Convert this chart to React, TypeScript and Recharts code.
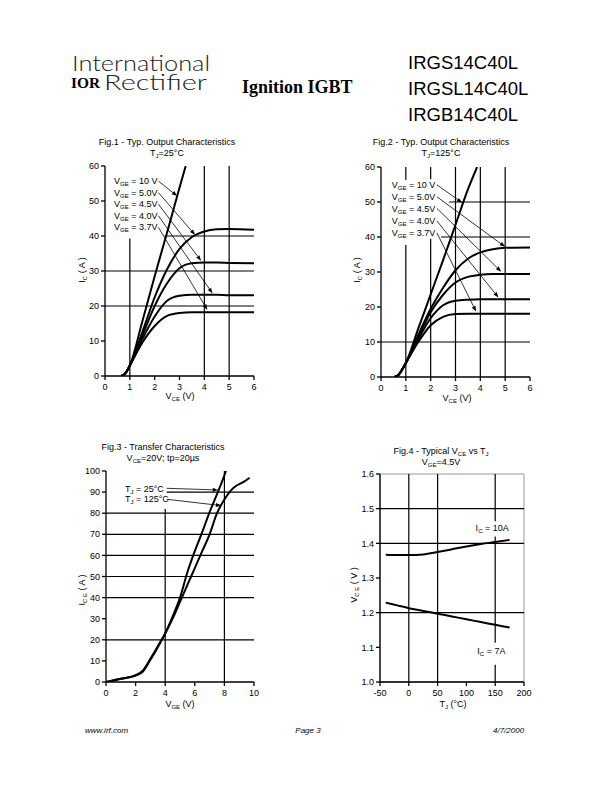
import React from "react";
import { LineChart, Line, XAxis, YAxis, ReferenceLine, ReferenceDot, ReferenceArea } from "recharts";

const FONT = "'Liberation Sans', Arial, Helvetica, sans-serif";

// ---- Fig.1  output characteristics, Tj = 25°C ----
const F1_X = [0.65, 0.8, 1, 1.5, 2, 2.5, 3, 3.5, 4, 4.5, 5, 6];
const F1_10V_X = [0.65, 0.8, 1, 1.5, 2, 2.5, 3, 3.25];
const F1_10V_Y = [0, 0.6, 3, 15.5, 28.5, 41, 53.8, 60];
const F1_50V_Y = [0, 0.6, 3, 12.5, 22.5, 30.5, 36.3, 39.7, 41.3, 41.9, 42, 41.8];
const F1_45V_Y = [0, 0.6, 3, 11.5, 20, 26.5, 30.8, 32.2, 32.4, 32.4, 32.3, 32.2];
const F1_40V_Y = [0, 0.6, 3, 10.5, 17, 21.5, 22.9, 23.2, 23.2, 23.2, 23.1, 23.1];
const F1_37V_Y = [0, 0.6, 3, 9.5, 14.3, 17.2, 18, 18.2, 18.2, 18.2, 18.2, 18.2];
const F1_LABELS = ["10 V", "5.0V", "4.5V", "4.0V", "3.7V"];
const F1_LABEL_Y = [55.7, 52.4, 49.1, 45.8, 42.5];
const F1_TIP_X = [2.91, 3.63, 3.87, 4.33, 4.12];
const F1_TIP_Y = [51.4, 40.3, 32.9, 23.6, 18.9];

// ---- Fig.2  output characteristics, Tj = 125°C ----
const F2_X = [0.55, 0.7, 1, 1.5, 2, 2.5, 3, 3.5, 4, 4.5, 5, 6];
const F2_10V_X = [0.55, 0.7, 1, 1.5, 2, 2.5, 3, 3.5, 3.87];
const F2_10V_Y = [0, 0.6, 4, 13.8, 23.6, 33.4, 43.5, 53.6, 60];
const F2_50V_Y = [0, 0.6, 4, 12, 19.5, 25.5, 30.5, 33.8, 35.6, 36.5, 36.9, 37];
const F2_45V_Y = [0, 0.6, 4, 11.5, 18.5, 23.5, 27, 28.6, 29.2, 29.4, 29.4, 29.4];
const F2_40V_Y = [0, 0.6, 4, 10.8, 16.8, 20.5, 21.8, 22.1, 22.2, 22.2, 22.2, 22.2];
const F2_37V_Y = [0, 0.6, 4, 10, 14.8, 17.2, 18, 18.1, 18.1, 18.1, 18.1, 18.1];
const F2_LABEL_Y = [54.9, 51.5, 48.2, 44.6, 41.2];
const F2_TIP_X = [3.27, 5.0, 4.84, 4.73, 3.83];
const F2_TIP_Y = [49.8, 37.2, 30.1, 22.7, 18.7];

// ---- Fig.3  transfer characteristics ----
const F3_25C_X = [0, 1, 2, 2.5, 3, 3.5, 4, 4.5, 5, 5.5, 6, 6.5, 7, 7.5, 8, 8.1];
const F3_25C_Y = [0, 1.5, 3.2, 5.5, 11, 17, 23, 31, 40, 52, 62, 71, 80.5, 89, 98, 100];
const F3_125C_X = [0, 1, 2, 2.5, 3, 3.5, 4, 4.5, 5, 5.5, 6, 6.5, 7, 7.5, 8, 8.4, 8.8, 9.3, 9.7];
const F3_125C_Y = [0, 1.5, 3, 5, 10.5, 16.5, 23, 30, 38, 46, 54, 62, 70, 80, 86.5, 90.5, 93, 94.8, 96.8];
const F3_LABELS = ["  25°C", " 125°C"];
const F3_LABEL_Y = [91.8, 86.6];
const F3_TIP_X = [7.58, 7.8];
const F3_TIP_Y = [91, 83.6];

// ---- Fig.4  Vce vs Tj ----
const F4_T = [-40, -20, 0, 25, 50, 75, 100, 125, 150, 175];
const F4_10A = [1.367, 1.366, 1.366, 1.368, 1.375, 1.383, 1.391, 1.398, 1.404, 1.41];
const F4_7A = [1.229, 1.221, 1.213, 1.205, 1.197, 1.189, 1.181, 1.173, 1.165, 1.157];

const pts = (xs: number[], ys: number[]) => xs.map((x, i) => ({ x, y: ys[i] }));

const GRID = { stroke: "#000", strokeWidth: 1.2 };
const TICK = { fontSize: 9, fill: "#000", fontFamily: FONT };
const AXIS = { stroke: "#000", strokeWidth: 1.3 };

function arrowShape(p: any) {
  const { x1, y1, x2, y2 } = p;
  const a = Math.atan2(y2 - y1, x2 - x1);
  const L = 5.5;
  const W = 2;
  const bx = x2 - L * Math.cos(a);
  const by = y2 - L * Math.sin(a);
  const nx = -Math.sin(a) * W;
  const ny = Math.cos(a) * W;
  return (
    <g>
      <line x1={x1} y1={y1} x2={bx} y2={by} stroke="#000" strokeWidth={0.8} />
      <polygon points={`${x2},${y2} ${bx + nx},${by + ny} ${bx - nx},${by - ny}`} fill="#000" />
    </g>
  );
}

function subText(base: string, sub: string, rest: string, size = 9) {
  return (p: any) => (
    <text x={p.cx} y={p.cy + 3.2} fontSize={size} fontFamily={FONT} fill="#000">
      {base}
      <tspan dy={2} fontSize={size * 0.68}>{sub}</tspan>
      <tspan dy={-2}>{rest}</tspan>
    </text>
  );
}

function gridH(y: number, x1: number, x2: number) {
  return <ReferenceLine key={`h${y}-${x1}`} segment={[{ x: x1, y }, { x: x2, y }]} {...GRID} />;
}
function gridV(x: number, y1: number, y2: number) {
  return <ReferenceLine key={`v${x}-${y1}`} segment={[{ x, y: y1 }, { x, y: y2 }]} {...GRID} />;
}
function curve(key: string, data: { x: number; y: number }[]) {
  return (
    <Line key={key} data={data} dataKey="y" type="monotone" stroke="#000" strokeWidth={2}
      dot={false} isAnimationActive={false} />
  );
}

function Panel({ left, top, w, h, xDomain, xTicks, yDomain, yTicks, yFmt, children }: any) {
  return (
    <div style={{ position: "absolute", left: left - 40, top: top - 10 }}>
      <LineChart width={w + 50} height={h + 50} margin={{ top: 10, right: 10, left: 10, bottom: 10 }}>
        <XAxis type="number" dataKey="x" domain={xDomain} ticks={xTicks} interval={0} height={30}
          allowDataOverflow tick={TICK} tickSize={4} tickMargin={4} axisLine={AXIS} tickLine={AXIS} />
        <YAxis type="number" domain={yDomain} ticks={yTicks} interval={0} width={30}
          allowDataOverflow tick={TICK} tickSize={4} tickMargin={2} axisLine={AXIS} tickLine={AXIS}
          tickFormatter={yFmt} />
        {children}
      </LineChart>
    </div>
  );
}

function callouts(prefix: string, base: string, sub: string, labels: string[], lx: number, ly: number[],
  sx: number, tx: number[], ty: number[]) {
  const out: any[] = [];
  labels.forEach((lab, i) => {
    out.push(<ReferenceDot key={`${prefix}d${i}`} x={lx} y={ly[i]} r={0} shape={subText(base, sub, lab.startsWith(" ") ? " =" + lab : " = " + lab)} />);
    out.push(<ReferenceLine key={`${prefix}a${i}`} segment={[{ x: sx, y: ly[i] }, { x: tx[i], y: ty[i] }]} shape={arrowShape} />);
  });
  return out;
}

function T({ x, y, size = 9, anchor = "start", children, ...rest }: any) {
  return (
    <text x={x} y={y} fontSize={size} fontFamily={FONT} textAnchor={anchor} fill="#000" {...rest}>
      {children}
    </text>
  );
}
const S = ({ children, size = 6 }: any) => <tspan dy={2} fontSize={size}>{children}</tspan>;
const U = ({ children }: any) => <tspan dy={-2}>{children}</tspan>;

const LOGO_FONT = "Lato, 'Open Sans', sans-serif";

export default function App() {
  const X6 = [0, 1, 2, 3, 4, 5, 6];
  const Y60 = [0, 10, 20, 30, 40, 50, 60];
  return (
    <div style={{ position: "absolute", left: 0, top: 0, width: 612, height: 792, background: "#fff" }}>
      <svg width={612} height={792} style={{ position: "absolute", left: 0, top: 0 }}>
        {/* header */}
        <text x={72} y={70.5} fontSize={21} fontFamily={LOGO_FONT} fontWeight={300} fill="#222"
          textLength={138} lengthAdjust="spacingAndGlyphs">International</text>
        <text x={71} y={88} fontSize={15.5} fontFamily="'Liberation Serif', serif" fontWeight={700} fill="#000"
          textLength={29} lengthAdjust="spacingAndGlyphs">IOR</text>
        <text x={104} y={89.5} fontSize={21} fontFamily={LOGO_FONT} fontWeight={300} fill="#222"
          textLength={103} lengthAdjust="spacingAndGlyphs">Rectifier</text>
        <text x={242} y={93} fontSize={18} fontFamily="'Liberation Serif', 'Times New Roman', serif" fontWeight={700} fill="#000">Ignition IGBT</text>
        <T x={408} y={68.5} size={18.5}>IRGS14C40L</T>
        <T x={408} y={94.5} size={18.5}>IRGSL14C40L</T>
        <T x={408} y={121} size={18.5}>IRGB14C40L</T>

        {/* fig titles */}
        <T x={167} y={145} anchor="middle">Fig.1 - Typ. Output Characteristics</T>
        <T x={167} y={155.5} anchor="middle">T<S>J</S><U>=25°C</U></T>
        <T x={441} y={145} anchor="middle">Fig.2 - Typ. Output Characteristics</T>
        <T x={441} y={155.5} anchor="middle">T<S>J</S><U>=125°C</U></T>
        <T x={163} y={450} anchor="middle">Fig.3 - Transfer Characteristics</T>
        <T x={163} y={461} anchor="middle">V<S>CE</S><U>=20V; tp=20µs</U></T>
        <T x={441} y={453.5} anchor="middle">Fig.4 - Typical V<S>CE</S><U> vs T</U><S>J</S></T>
        <T x={441} y={464.5} anchor="middle">V<S>GE</S><U>=4.5V</U></T>

        {/* axis titles */}
        <T x={180} y={399} anchor="middle">V<S>CE</S><U> (V)</U></T>
        <T x={457} y={401} anchor="middle">V<S>CE</S><U> (V)</U></T>
        <T x={180} y={707} anchor="middle">V<S>GE</S><U> (V)</U></T>
        <T x={453} y={707} anchor="middle">T<S>J</S><U> (°C)</U></T>
        <T x={0} y={0} anchor="middle" transform="translate(85,270) rotate(-90)">I<S>C</S><U>  ( A )</U></T>
        <T x={0} y={0} anchor="middle" transform="translate(360,270) rotate(-90)">I<S>C</S><U>  ( A )</U></T>
        <T x={0} y={0} anchor="middle" transform="translate(85,590) rotate(-90)">I<S>C E</S><U>  ( A )</U></T>
        <T x={0} y={0} anchor="middle" transform="translate(357,585) rotate(-90)">V<S>C E</S><U>  ( V )</U></T>

        {/* footer */}
        <T x={85} y={733} size={8} fontStyle="italic">www.irf.com</T>
        <T x={308} y={733} size={8} anchor="middle" fontStyle="italic">Page 3</T>
        <T x={493} y={733} size={8} fontStyle="italic">4/7/2000</T>
      </svg>

      <Panel left={105} top={166} w={149} h={210} xDomain={[0, 6]} xTicks={X6} yDomain={[0, 60]} yTicks={Y60}>
        {gridH(20, 0, 6)}
        {gridH(30, 0, 6)}
        {gridH(40, 2.4, 6)}
        {gridV(1, 0, 39.3)}
        {gridV(4, 0, 60)}
        {gridV(5, 0, 60)}
        {curve("f1a", pts(F1_10V_X, F1_10V_Y))}
        {curve("f1b", pts(F1_X, F1_50V_Y))}
        {curve("f1c", pts(F1_X, F1_45V_Y))}
        {curve("f1d", pts(F1_X, F1_40V_Y))}
        {curve("f1e", pts(F1_X, F1_37V_Y))}
        {callouts("f1", "V", "GE", F1_LABELS, 0.36, F1_LABEL_Y, 2.15, F1_TIP_X, F1_TIP_Y)}
      </Panel>

      <Panel left={381} top={167} w={149} h={210} xDomain={[0, 6]} xTicks={X6} yDomain={[0, 60]} yTicks={Y60}>
        {gridH(10, 0, 6)}
        {gridH(40, 2.42, 6)}
        {gridH(50, 2.74, 6)}
        {gridV(1, 0, 37.7)}
        {gridV(1, 56.3, 60)}
        {gridV(2, 0, 39.5)}
        {gridV(2, 56.5, 60)}
        {gridV(3, 0, 60)}
        {gridV(4, 0, 60)}
        {gridV(5, 0, 60)}
        {curve("f2a", pts(F2_10V_X, F2_10V_Y))}
        {curve("f2b", pts(F2_X, F2_50V_Y))}
        {curve("f2c", pts(F2_X, F2_45V_Y))}
        {curve("f2d", pts(F2_X, F2_40V_Y))}
        {curve("f2e", pts(F2_X, F2_37V_Y))}
        {callouts("f2", "V", "GE", F1_LABELS, 0.43, F2_LABEL_Y, 2.25, F2_TIP_X, F2_TIP_Y)}
      </Panel>

      <Panel left={106} top={471} w={148} h={211} xDomain={[0, 10]} xTicks={[0, 2, 4, 6, 8, 10]}
        yDomain={[0, 100]} yTicks={[0, 10, 20, 30, 40, 50, 60, 70, 80, 90, 100]}>
        {[20, 40, 50, 60, 70, 80].map((y) => gridH(y, 0, 10))}
        {gridH(90, 4.1, 10)}
        {gridV(4, 0, 82)}
        {gridV(8, 0, 100)}
        {curve("f3a", pts(F3_25C_X, F3_25C_Y))}
        {curve("f3b", pts(F3_125C_X, F3_125C_Y))}
        {callouts("f3", "T", "J", F3_LABELS, 1.28, F3_LABEL_Y, 4.1, F3_TIP_X, F3_TIP_Y)}
      </Panel>

      <Panel left={380} top={474} w={144} h={208} xDomain={[-50, 200]} xTicks={[-50, 0, 50, 100, 150, 200]}
        yDomain={[1.0, 1.6]} yTicks={[1.0, 1.1, 1.2, 1.3, 1.4, 1.5, 1.6]} yFmt={(v: number) => v.toFixed(1)}>
        <ReferenceArea x1={-50} x2={200} y1={1.0} y2={1.6} fill="none" stroke="#999" strokeWidth={1} />
        {[1.2, 1.4, 1.5].map((y) => gridH(y, -50, 200))}
        {gridV(0, 1.0, 1.6)}
        {gridV(50, 1.0, 1.6)}
        {gridV(150, 1.464, 1.6)}
        {gridV(150, 1.113, 1.42)}
        {gridV(150, 1.0, 1.05)}
        {curve("f4a", pts(F4_T, F4_10A))}
        {curve("f4b", pts(F4_T, F4_7A))}
        <ReferenceDot x={116} y={1.444} r={0} shape={subText("I", "C", " = 10A")} />
        <ReferenceDot x={119} y={1.089} r={0} shape={subText("I", "C", " = 7A")} />
      </Panel>
    </div>
  );
}
